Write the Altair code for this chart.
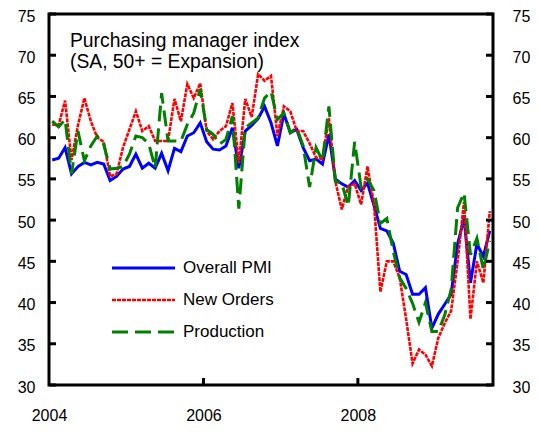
import altair as alt
import pandas as pd

# Monthly data, Jan 2004 .. Sep 2009 (plotted mid-month)
n_months = 69
overall = [57.3, 57.5, 58.8, 55.6, 56.5, 57.0, 56.7, 57.0, 56.8, 54.8, 55.3, 56.2,
           56.5, 58.0, 56.3, 56.9, 56.3, 58.1, 56.0, 58.7, 58.3, 60.2, 60.6, 61.8,
           59.5, 58.6, 58.5, 59.0, 61.2, 56.3, 60.8, 61.5, 62.3, 63.8, 61.8, 59.0,
           62.9, 60.6, 61.0, 58.8, 57.2, 57.4, 56.8, 60.4, 55.0, 54.4, 54.0, 54.8,
           53.6, 54.5, 51.8, 49.0, 48.7, 47.2, 43.8, 43.4, 41.0, 41.0, 41.8, 36.9,
           38.6, 39.8, 41.0, 47.1, 50.2, 42.4, 47.1, 45.6, 48.7]
new_orders = [61.6, 61.5, 64.5, 57.3, 61.5, 64.8, 62.0, 60.0, 59.5, 55.3, 55.6, 58.8,
              61.0, 63.2, 60.8, 61.4, 59.6, 59.6, 59.6, 64.7, 62.0, 66.5, 64.8, 66.6,
              60.8, 59.8, 60.8, 61.4, 64.2, 56.9, 64.7, 62.5, 67.7, 66.9, 67.5, 60.2,
              63.8, 63.2, 60.8, 60.8, 59.3, 57.6, 57.4, 62.4, 54.7, 51.3, 54.1, 54.4,
              51.9, 56.5, 52.0, 41.3, 45.0, 45.0, 43.0, 38.0, 32.6, 34.3, 33.7, 32.3,
              35.7, 37.5, 39.0, 45.0, 52.2, 38.0, 45.0, 42.4, 51.1]
production = [62.0, 61.3, 62.2, 55.6, 60.8, 57.2, 59.0, 60.2, 59.2, 56.2, 56.3, 56.5,
              58.0, 60.2, 60.0, 59.3, 56.3, 65.4, 59.6, 59.6, 59.6, 61.6, 63.0, 65.9,
              61.0, 60.4, 59.2, 59.8, 62.6, 51.4, 61.2, 61.8, 62.4, 64.8, 65.6, 62.2,
              63.0, 60.6, 61.2, 59.0, 54.0, 58.8, 57.2, 63.8, 54.7, 54.5, 51.7, 59.5,
              54.0, 55.0, 53.6, 49.6, 50.2, 46.2, 43.0, 41.7, 39.9, 37.6, 40.0, 36.5,
              36.5, 38.5, 41.6, 51.5, 53.3, 45.8, 47.8, 44.0, 47.5]

series_names = ["Overall PMI", "New Orders", "Production"]
series_values = [overall, new_orders, production]
series_colors = ["#0000FF", "#FF0000", "#008000"]
series_dashes = [None, [4, 1], [16, 7]]
series_widths = [3, 2.6, 3]

y_ticks = [30, 35, 40, 45, 50, 55, 60, 65, 70, 75]
x_ticks = [2004, 2006, 2008]
x_inner_ticks = [2006, 2008]
title_lines = ["Purchasing manager index", "(SA, 50+ = Expansion)"]

FONT = "Liberation Sans"
W, H = 444, 371

xscale = alt.Scale(domain=[2004, 2009.75], nice=False, zero=False)
yscale = alt.Scale(domain=[30, 75], nice=False, zero=False)

layers = []

# lines
for i, (name, vals, col, dash, sw) in enumerate(
        zip(series_names, series_values, series_colors, series_dashes, series_widths)):
    d = pd.DataFrame({
        "date": [2004 + (m + 0.5) / 12 for m in range(n_months)],
        "value": vals,
        "series": [name] * n_months,
    })
    kw = dict(color=col, strokeWidth=sw, clip=True)
    if dash:
        kw["strokeDash"] = dash
    if i == 0:
        xaxis = alt.Axis(values=x_ticks, format="d", ticks=False, domain=False, grid=False,
                         labelPadding=22, labelFontSize=16, labelFont=FONT,
                         labelColor="black", title=None, labelFlush=False)
    else:
        xaxis = None
    layers.append(
        alt.Chart(d).mark_line(**kw).encode(
            x=alt.X("date:Q", scale=xscale, axis=xaxis),
            y=alt.Y("value:Q", scale=yscale, axis=None),
        )
    )

# tick marks (inward) + axis labels
ytick_df = pd.DataFrame({"v": y_ticks})
left_axis = alt.Axis(values=y_ticks, ticks=False, domain=False, grid=False,
                     labelPadding=14, labelFontSize=16, labelFont=FONT,
                     labelColor="black", title=None, orient="left", labelOffset=2)
right_axis = alt.Axis(values=y_ticks, ticks=False, domain=False, grid=False,
                      labelPadding=19, labelFontSize=16, labelFont=FONT,
                      labelColor="black", title=None, orient="right", labelOffset=2)
layers.append(
    alt.Chart(ytick_df).mark_rule(color="black", strokeWidth=3).encode(
        y=alt.Y("v:Q", scale=yscale, axis=left_axis),
        x=alt.value(0), x2=alt.value(7),
    )
)
layers.append(
    alt.Chart(ytick_df).mark_rule(color="black", strokeWidth=3).encode(
        y=alt.Y("v:Q", scale=yscale, axis=right_axis),
        x=alt.value(W - 7), x2=alt.value(W),
    )
)
layers.append(
    alt.Chart(pd.DataFrame({"v": x_inner_ticks})).mark_rule(color="black", strokeWidth=3).encode(
        x=alt.X("v:Q", scale=xscale, axis=None),
        y=alt.value(H - 7), y2=alt.value(H),
    )
)

# in-plot title
for j, line in enumerate(title_lines):
    layers.append(
        alt.Chart(pd.DataFrame({"t": [line]})).mark_text(
            align="left", baseline="alphabetic", fontSize=19.3, font=FONT, color="black"
        ).encode(x=alt.value(21), y=alt.value(33 + 21 * j), text="t:N")
    )

# legend
for j, (name, col, dash, sw) in enumerate(zip(series_names, series_colors, series_dashes, series_widths)):
    ypos = 254 + 32 * j
    kw = dict(color=col, strokeWidth=sw)
    if dash:
        kw["strokeDash"] = dash
    layers.append(
        alt.Chart(pd.DataFrame({"t": [name]})).mark_rule(**kw).encode(
            x=alt.value(63), x2=alt.value(126), y=alt.value(ypos)
        )
    )
    layers.append(
        alt.Chart(pd.DataFrame({"t": [name]})).mark_text(
            align="left", baseline="middle", fontSize=17, font=FONT, color="black"
        ).encode(x=alt.value(134), y=alt.value(ypos), text="t:N")
    )

chart = (
    alt.layer(*layers)
    .resolve_axis(x="independent", y="independent")
    .properties(
        width=W, height=H,
        autosize=alt.AutoSizeParams(type="none"),
        padding={"left": 41, "top": 6, "right": 37, "bottom": 39},
        background="white",
    )
    .configure_view(stroke="black", strokeWidth=3)
)

chart.save("out.html", embed_options={"renderer": "svg", "actions": False})
